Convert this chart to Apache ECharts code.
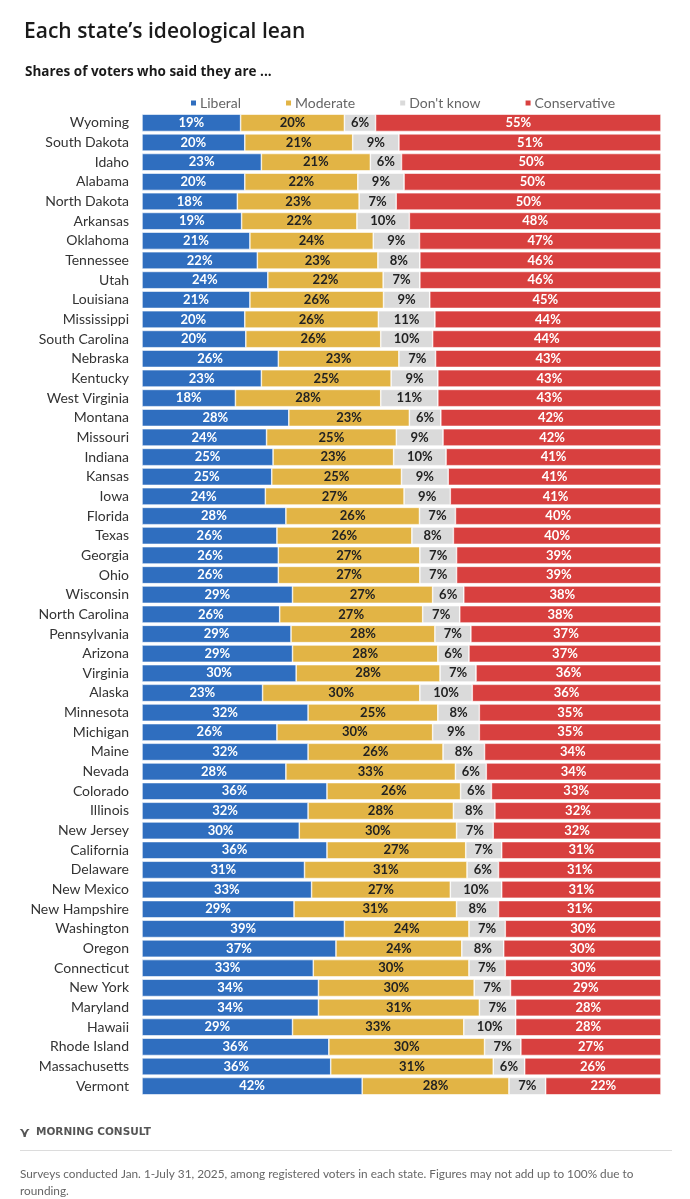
<!DOCTYPE html>
<html>
<head>
<meta charset="utf-8">
<script src="https://cdn.jsdelivr.net/npm/echarts@6/dist/echarts.min.js"></script>
<style>
  html, body { margin: 0; padding: 0; background: #fff; }
  #chart { width: 690px; height: 1199px; }
</style>
</head>
<body>
<div id="chart"></div>
<script>
const states = [
  'Wyoming', 'South Dakota', 'Idaho', 'Alabama', 'North Dakota', 'Arkansas', 'Oklahoma',
  'Tennessee', 'Utah', 'Louisiana', 'Mississippi', 'South Carolina', 'Nebraska', 'Kentucky',
  'West Virginia', 'Montana', 'Missouri', 'Indiana', 'Kansas', 'Iowa', 'Florida', 'Texas',
  'Georgia', 'Ohio', 'Wisconsin', 'North Carolina', 'Pennsylvania', 'Arizona', 'Virginia',
  'Alaska', 'Minnesota', 'Michigan', 'Maine', 'Nevada', 'Colorado', 'Illinois', 'New Jersey',
  'California', 'Delaware', 'New Mexico', 'New Hampshire', 'Washington', 'Oregon',
  'Connecticut', 'New York', 'Maryland', 'Hawaii', 'Rhode Island', 'Massachusetts', 'Vermont'
]
const liberal = [19, 20, 23, 20, 18, 19, 21, 22, 24, 21, 20, 20, 26, 23, 18, 28, 24, 25, 25, 24,
  28, 26, 26, 26, 29, 26, 29, 29, 30, 23, 32, 26, 32, 28, 36, 32, 30, 36, 31, 33, 29, 39, 37,
  33, 34, 34, 29, 36, 36, 42]
const moderate = [20, 21, 21, 22, 23, 22, 24, 23, 22, 26, 26, 26, 23, 25, 28, 23, 25, 23, 25, 27,
  26, 26, 27, 27, 27, 27, 28, 28, 28, 30, 25, 30, 26, 33, 26, 28, 30, 27, 31, 27, 31, 24, 24,
  30, 30, 31, 33, 30, 31, 28]
const dontKnow = [6, 9, 6, 9, 7, 10, 9, 8, 7, 9, 11, 10, 7, 9, 11, 6, 9, 10, 9, 9,
  7, 8, 7, 7, 6, 7, 7, 6, 7, 10, 8, 9, 8, 6, 6, 8, 7, 7, 6, 10, 8, 7, 8,
  7, 7, 7, 10, 7, 6, 7]
const conservative = [55, 51, 50, 50, 50, 48, 47, 46, 46, 45, 44, 44, 43, 43, 43, 42, 42, 41, 41, 41,
  40, 40, 39, 39, 38, 38, 37, 37, 36, 36, 35, 35, 34, 34, 33, 32, 32, 31, 31, 31, 31, 30, 30,
  30, 29, 28, 28, 27, 26, 22]

const groups = [
  { name: 'Liberal', values: liberal, color: '#2f6ebf', text: '#fff' },
  { name: 'Moderate', values: moderate, color: '#e2b445', text: '#222' },
  { name: "Don't know", values: dontKnow, color: '#dadada', text: '#222' },
  { name: 'Conservative', values: conservative, color: '#d8403f', text: '#fff' }
]

// bars fill the full width, so each row is scaled to its own total
const totals = states.map((s, i) => groups.reduce((sum, g) => sum + g.values[i], 0))

const chart = echarts.init(document.getElementById('chart'))

const option = {
  animation: false,
  textStyle: { fontFamily: 'Lato, "Open Sans", sans-serif' },
  title: [
    {
      text: 'Each state’s ideological lean',
      left: 19,
      top: 17,
      textStyle: { fontSize: 21, fontWeight: 600, color: '#1a1a1a', fontFamily: '"Open Sans", sans-serif' }
    },
    {
      text: 'Shares of voters who said they are ...',
      left: 20,
      top: 60,
      textStyle: { fontSize: 13.5, fontWeight: 'bold', color: '#1a1a1a', fontFamily: '"Open Sans", sans-serif' }
    }
  ],
  legend: {
    top: 91,
    left: 184,
    itemGap: 43,
    itemWidth: 7,
    itemHeight: 7,
    icon: 'rect',
    textStyle: { fontSize: 14, color: '#666', padding: [0, 0, 0, -2] }
  },
  grid: { left: 142, right: 29, top: 113, bottom: 103, containLabel: false },
  xAxis: {
    type: 'value',
    min: 0,
    max: 100,
    show: false
  },
  yAxis: {
    type: 'category',
    data: states,
    inverse: true,
    axisLine: { show: false },
    axisTick: { show: false },
    axisLabel: { fontSize: 14, color: '#333', margin: 13 }
  },
  series: groups.map(g => ({
    name: g.name,
    type: 'bar',
    stack: 'total',
    barCategoryGap: '12%',
    itemStyle: { color: g.color, borderColor: '#fff', borderWidth: 0.6 },
    label: {
      show: true,
      position: 'inside',
      color: g.text,
      fontSize: 13,
      fontWeight: 'bold',
      formatter: p => p.data.raw + '%'
    },
    data: g.values.map((v, i) => ({ value: v / totals[i] * 100, raw: v }))
  })),
  graphic: [
    {
      type: 'text',
      left: 19,
      top: 1126,
      style: { text: '⋎', fill: '#555', font: 'bold 14px "DejaVu Sans", sans-serif' }
    },
    {
      type: 'text',
      left: 36,
      top: 1127,
      style: { text: 'MORNING CONSULT', fill: '#555', font: 'bold 10.5px "DejaVu Sans", sans-serif' }
    },
    {
      type: 'line',
      shape: { x1: 20, y1: 1150.5, x2: 672, y2: 1150.5 },
      style: { stroke: '#dcdcdc', lineWidth: 1 }
    },
    {
      type: 'text',
      left: 20,
      top: 1166,
      style: {
        text: 'Surveys conducted Jan. 1-July 31, 2025, among registered voters in each state. Figures may not add up to 100% due to\nrounding.',
        fill: '#666',
        font: '11.8px Lato, sans-serif',
        lineHeight: 17
      }
    }
  ]
}

chart.setOption(option)
</script>
</body>
</html>
